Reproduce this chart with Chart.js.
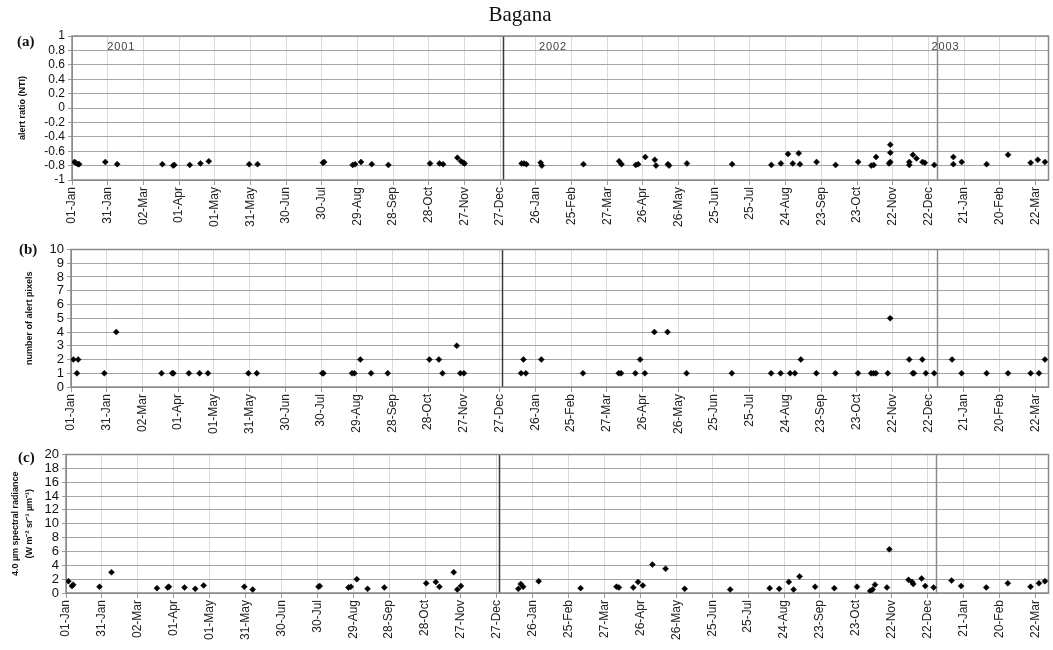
<!DOCTYPE html>
<html>
<head>
<meta charset="utf-8">
<title>Bagana</title>
<script src="https://cdn.jsdelivr.net/npm/chart.js"></script>
<style>
  body { margin: 0; background: #fff; }
  #wrap { position: relative; width: 1053px; height: 650px; overflow: hidden; }
  .panel { position: absolute; left: 0; width: 1053px; }
  #title { position: absolute; left: 0; top: 2px; width: 1040px; text-align: center;
           font: 21px 'Liberation Serif', serif; color: #111; }
  .tag { position: absolute; font: bold 15px 'Liberation Serif', serif; color: #111; }
</style>
</head>
<body>
<div id="wrap">
  <div class="panel" style="top:0;height:240px"><canvas id="chartA"></canvas></div>
  <div class="panel" style="top:240px;height:205px"><canvas id="chartB"></canvas></div>
  <div class="panel" style="top:445px;height:205px"><canvas id="chartC"></canvas></div>
  <div id="title">Bagana</div>
  <div class="tag" style="left:17px;top:33px">(a)</div>
  <div class="tag" style="left:19px;top:241px">(b)</div>
  <div class="tag" style="left:18px;top:449px">(c)</div>
</div>
<script>
// MODIS scenes with alerts, shared by panels (b) and (c)
const scanDates = [
  '2001-01-03','2001-01-06','2001-01-07','2001-01-29','2001-02-08','2001-03-18','2001-03-27','2001-03-28',
  '2001-04-10','2001-04-19','2001-04-26','2001-05-30','2001-06-06','2001-07-31','2001-08-01','2001-08-25',
  '2001-08-27','2001-09-01','2001-09-10','2001-09-24','2001-10-29','2001-11-06','2001-11-09','2001-11-21',
  '2001-11-24','2001-11-27','2002-01-14','2002-01-16','2002-01-18','2002-01-31','2002-03-07','2002-04-06',
  '2002-04-08','2002-04-20','2002-04-24','2002-04-28','2002-05-06','2002-05-17','2002-06-02','2002-07-10',
  '2002-08-12','2002-08-20','2002-08-28','2002-09-01','2002-09-06','2002-09-19','2002-10-05','2002-10-24',
  '2002-11-04','2002-11-06','2002-11-08','2002-11-18','2002-11-20','2002-12-06','2002-12-09','2002-12-10',
  '2002-12-17','2002-12-20','2002-12-27','2003-01-11','2003-01-19','2003-02-09','2003-02-27','2003-03-18',
  '2003-03-25','2003-03-30'
];
const alertPixels = [
  2, 1, 2, 1, 4, 1, 1, 1,
  1, 1, 1, 1, 1, 1, 1, 1,
  1, 2, 1, 1, 2, 2, 1, 3,
  1, 1, 1, 2, 1, 2, 1, 1,
  1, 1, 2, 1, 4, 4, 1, 1,
  1, 1, 1, 1, 2, 1, 1, 1,
  1, 1, 1, 1, 5, 2, 1, 1,
  2, 1, 1, 2, 1, 1, 1, 1,
  1, 2
];
const radiance = [
  1.7, 1.0, 1.2, 0.9, 3.0, 0.7, 0.8, 0.9,
  0.8, 0.6, 1.1, 0.9, 0.5, 0.9, 1.0, 0.8,
  0.9, 2.0, 0.6, 0.8, 1.4, 1.6, 0.9, 3.0,
  0.5, 1.0, 0.6, 1.3, 0.9, 1.7, 0.7, 0.9,
  0.8, 0.8, 1.6, 1.1, 4.1, 3.5, 0.6, 0.5,
  0.7, 0.6, 1.6, 0.5, 2.4, 0.9, 0.7, 0.9,
  0.3, 0.5, 1.2, 0.8, 6.3, 1.9, 1.6, 1.3,
  2.1, 1.0, 0.8, 1.8, 1.0, 0.8, 1.4, 0.9,
  1.4, 1.7
];

// alert-pixel NTI values, panel (a)
const ntiDates = [
  '2001-01-03','2001-01-04','2001-01-06','2001-01-07','2001-01-29','2001-02-08','2001-03-18','2001-03-27',
  '2001-03-28','2001-04-10','2001-04-19','2001-04-26','2001-05-30','2001-06-06','2001-07-31','2001-08-01',
  '2001-08-25','2001-08-27','2001-09-01','2001-09-10','2001-09-24','2001-10-29','2001-11-06','2001-11-09',
  '2001-11-21','2001-11-24','2001-11-26','2001-11-27','2002-01-14','2002-01-16','2002-01-18','2002-01-30',
  '2002-01-31','2002-03-07','2002-04-06','2002-04-08','2002-04-20','2002-04-22','2002-04-28','2002-05-06',
  '2002-05-07','2002-05-17','2002-05-18','2002-06-02','2002-07-10','2002-08-12','2002-08-20','2002-08-26',
  '2002-08-30','2002-09-04','2002-09-05','2002-09-19','2002-10-05','2002-10-24','2002-11-04','2002-11-06',
  '2002-11-08','2002-11-19','2002-11-20','2002-11-20','2002-11-20','2002-12-06','2002-12-06','2002-12-09',
  '2002-12-12','2002-12-17','2002-12-19','2002-12-27','2003-01-12','2003-01-12','2003-01-19','2003-02-09',
  '2003-02-27','2003-03-18','2003-03-24','2003-03-30'
];
const ntiValues = [
  -0.75, -0.76, -0.78, -0.78, -0.75, -0.78, -0.78, -0.80,
  -0.79, -0.79, -0.77, -0.74, -0.78, -0.78, -0.76, -0.75,
  -0.79, -0.78, -0.75, -0.78, -0.79, -0.77, -0.77, -0.78,
  -0.69, -0.74, -0.76, -0.77, -0.77, -0.77, -0.78, -0.76,
  -0.80, -0.78, -0.74, -0.78, -0.79, -0.78, -0.68, -0.72,
  -0.80, -0.78, -0.80, -0.77, -0.78, -0.79, -0.77, -0.64,
  -0.77, -0.63, -0.78, -0.75, -0.79, -0.75, -0.80, -0.79,
  -0.68, -0.77, -0.51, -0.62, -0.75, -0.75, -0.79, -0.65,
  -0.70, -0.75, -0.76, -0.79, -0.68, -0.78, -0.75, -0.78,
  -0.65, -0.76, -0.72, -0.75
];

// axis setup
const axisStart = '2001-01-01';
const axisEnd = '2003-04-02';
const tickStepDays = 30;
const yearNames = ['2001', '2002', '2003'];
const yearNameDates = ['2001-02-11', '2002-02-09', '2003-01-05'];
const yearBreaks = ['2001-12-29', '2002-12-29'];

const MONTHS = ['Jan','Feb','Mar','Apr','May','Jun','Jul','Aug','Sep','Oct','Nov','Dec'];
const DAY = 86400000;
const T0 = Date.UTC(2001, 0, 1);

function toDay(s) {
  const [y, m, d] = s.split('-').map(Number);
  return (Date.UTC(y, m - 1, d) - T0) / DAY;
}
function dayLabel(v) {
  const d = new Date(T0 + v * DAY);
  return String(d.getUTCDate()).padStart(2, '0') + '-' + MONTHS[d.getUTCMonth()];
}
function points(dates, values) {
  return dates.map((s, i) => ({ x: toDay(s), y: values[i] }));
}

Chart.defaults.font.family = "'Liberation Sans', Arial, sans-serif";
Chart.defaults.color = '#111';

// frame around the plot, year separators and year names
const framePlugin = {
  id: 'frame',
  beforeDatasetsDraw(chart, args, opts) {
    const { ctx, chartArea: a, scales: { x } } = chart;
    ctx.save();
    yearBreaks.forEach((s, i) => {
      const px = Math.round(x.getPixelForValue(toDay(s))) + 0.5;
      ctx.strokeStyle = i === 0 ? '#3a3a3a' : '#8c8c8c';
      ctx.lineWidth = 1.5;
      ctx.beginPath();
      ctx.moveTo(px, a.top);
      ctx.lineTo(px, a.bottom);
      ctx.stroke();
    });
    ctx.strokeStyle = '#8a8a8a';
    ctx.lineWidth = 1.5;
    ctx.strokeRect(a.left, a.top, a.width, a.height);
    if (opts.years) {
      ctx.fillStyle = '#444';
      ctx.font = "11px 'Liberation Sans', Arial, sans-serif";
      ctx.textAlign = 'center';
      ctx.textBaseline = 'middle';
      yearNames.forEach((t, i) => {
        ctx.fillText(t.split('').join(String.fromCharCode(8202)), x.getPixelForValue(toDay(yearNameDates[i])), a.top + 11);
      });
    }
    ctx.restore();
  }
};

function makePanel(id, cfg) {
  return new Chart(document.getElementById(id), {
    type: 'scatter',
    data: {
      datasets: [{
        data: cfg.data,
        pointStyle: 'rectRot',
        pointRadius: 3,
        backgroundColor: '#000',
        borderColor: '#000',
        borderWidth: 0.5
      }]
    },
    options: {
      responsive: true,
      maintainAspectRatio: false,
      animation: false,
      layout: { padding: { left: 0, right: 2, top: cfg.padTop, bottom: 0 } },
      plugins: {
        legend: { display: false },
        tooltip: { enabled: false },
        frame: { years: !!cfg.years }
      },
      scales: {
        x: {
          type: 'linear',
          min: toDay(axisStart),
          max: toDay(axisEnd),
          afterFit(s) { s.height = cfg.xHeight; },
          ticks: {
            stepSize: tickStepDays,
            includeBounds: false,
            autoSkip: false,
            maxRotation: 90,
            minRotation: 90,
            padding: 2,
            color: '#222',
            font: { size: 12 },
            callback: v => dayLabel(v)
          },
          grid: { color: '#dadada', tickColor: '#999', tickLength: 5 },
          border: { color: '#8a8a8a' }
        },
        y: {
          min: cfg.yMin,
          max: cfg.yMax,
          afterFit(s) { s.width = cfg.yWidth; },
          ticks: {
            stepSize: cfg.yStep,
            autoSkip: false,
            padding: 3,
            color: '#111',
            font: { size: cfg.yFont || 13, lineHeight: 1 },
            callback: v => String(Math.round(v * 10) / 10)
          },
          grid: { color: '#a4a4a4', tickColor: '#999', tickLength: 4 },
          border: { color: '#8a8a8a' },
          title: {
            display: true,
            text: cfg.yTitle,
            font: { size: 9, weight: 'bold', lineHeight: cfg.titleLH || 1.2 },
            color: '#111',
            padding: { top: cfg.titlePad, bottom: 0 }
          }
        }
      }
    },
    plugins: [framePlugin]
  });
}

makePanel('chartA', {
  data: points(ntiDates, ntiValues),
  padTop: 36, xHeight: 60, yWidth: 72,
  yMin: -1, yMax: 1, yStep: 0.2, yFont: 12,
  yTitle: 'alert ratio (NTI)', titlePad: 17,
  years: true
});

makePanel('chartB', {
  data: points(scanDates, alertPixels),
  padTop: 7, xHeight: 58, yWidth: 71,
  yMin: 0, yMax: 10, yStep: 1,
  yTitle: 'number of alert pixels', titlePad: 24
});

makePanel('chartC', {
  data: points(scanDates, radiance),
  padTop: 8, xHeight: 57, yWidth: 66,
  yMin: 0, yMax: 20, yStep: 2,
  yTitle: ['4.0 \u00b5m spectral radiance', '(W m\u207b\u00b2 sr\u207b\u00b9 \u00b5m\u207b\u00b9)'],
  titleLH: 1.6, titlePad: 8
});
</script>
</body>
</html>
